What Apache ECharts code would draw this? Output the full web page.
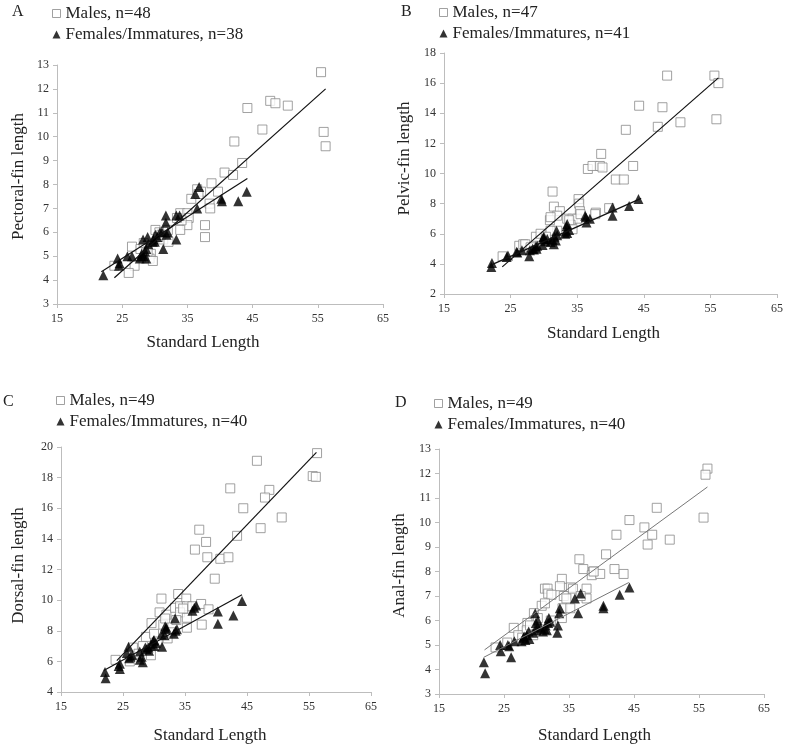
<!DOCTYPE html>
<html><head><meta charset="utf-8">
<script src="https://cdn.jsdelivr.net/npm/echarts@6/dist/echarts.min.js"></script>
<style>html,body{margin:0;padding:0;background:#fff}#c{width:788px;height:749px}</style>
</head><body><div id="c"></div>
<script>
// ---------- DATA ----------
const xTicks = [15, 25, 35, 45, 55, 65];

const malesA = [[55.5,12.7],[55.9,10.2],[56.2,9.6],[47.7,11.5],[48.5,11.4],[50.4,11.3],[44.2,11.2],[46.5,10.3],[42.2,9.8],[43.4,8.9],[40.7,8.5],[42.0,8.4],[38.7,8.05],[39.7,7.7],[36.5,7.8],[37.1,7.7],[35.6,7.4],[38.4,7.2],[38.5,7.0],[37.7,6.3],[37.7,5.8],[33.9,6.8],[35.0,6.8],[35.2,6.6],[35.0,6.3],[34.1,6.5],[33.9,6.1],[30.1,6.1],[30.7,6.0],[31.3,5.7],[32.1,5.6],[31.7,6.0],[26.5,5.4],[27.8,5.3],[29.4,5.1],[29.2,4.9],[29.7,4.8],[26.9,4.6],[26.0,4.3],[23.8,4.6],[28.7,5.3],[28.3,5.55],[32.0,6.1],[36.7,7.6],[30.5,5.8],[33.4,6.6],[28.9,5.2],[31.0,5.9]];
const femalesA = [[22.1,4.2],[24.3,4.9],[24.5,4.6],[25.8,5.0],[26.5,5.0],[27.7,4.9],[28.3,5.0],[28.7,4.9],[28.2,5.7],[28.9,5.8],[28.7,5.3],[29.8,5.7],[30.1,5.9],[31.1,6.0],[31.8,5.9],[31.3,5.3],[31.7,6.7],[31.7,6.4],[33.3,5.7],[33.3,6.7],[33.8,6.7],[36.5,7.0],[36.2,7.6],[36.8,7.9],[40.2,7.4],[40.3,7.3],[42.8,7.3],[44.1,7.7],[29.7,5.6],[30.4,5.8],[30.8,6.0],[28.0,5.1],[29.0,5.5],[27.9,5.0],[32.0,6.0],[24.6,4.7],[30.0,5.6],[28.5,5.2]];
const fitMalesA = [[23.8,4.1],[56.2,12.0]];
const fitFemalesA = [[21.8,4.35],[44.2,8.25]];

const malesB = [[55.6,16.5],[48.5,16.5],[56.2,16.0],[55.9,13.6],[44.3,14.5],[47.8,14.4],[47.1,13.1],[50.5,13.4],[42.3,12.9],[38.6,11.3],[36.6,10.3],[37.3,10.5],[38.4,10.5],[38.8,10.4],[43.4,10.5],[40.8,9.6],[42.0,9.6],[31.3,8.8],[31.5,7.8],[35.2,8.3],[35.3,8.0],[32.4,7.5],[32.0,7.2],[35.4,7.5],[37.8,7.4],[39.8,7.7],[30.9,6.9],[31.0,7.1],[33.5,7.0],[34.3,7.0],[35.0,7.0],[34.0,6.6],[34.3,6.3],[32.0,6.2],[31.0,6.2],[29.5,5.6],[28.8,5.8],[26.3,5.2],[26.9,5.3],[27.2,5.3],[23.8,4.5],[29.5,6.0],[30.3,5.8],[28.0,5.1],[35.5,7.3],[37.7,7.3],[33.8,6.9]];
const femalesB = [[22.2,4.05],[22.1,3.8],[24.6,4.55],[25.9,4.8],[26.7,4.9],[27.8,4.5],[28.3,5.0],[28.8,5.15],[28.9,5.0],[29.8,5.25],[30.0,5.8],[30.0,5.65],[30.5,5.65],[31.3,5.6],[31.5,5.3],[31.8,5.55],[31.9,6.2],[33.3,6.15],[33.4,6.5],[33.5,6.65],[33.5,6.05],[33.8,6.25],[36.2,7.2],[36.9,7.0],[36.4,6.75],[40.3,7.75],[40.3,7.2],[42.8,7.85],[44.2,8.3],[26.0,4.75],[28.5,4.95],[29.9,5.75],[31.0,5.45],[32.0,5.9],[24.4,4.45],[30.2,5.5],[29.0,5.2],[33.2,6.0],[31.6,5.8],[36.3,7.1],[27.9,4.9]];
const fitMalesB = [[23.75,3.8],[56.2,16.35]];
const fitFemalesB = [[22.2,3.95],[44.6,8.35]];

const malesC = [[56.3,19.6],[55.6,18.1],[56.1,18.05],[46.6,19.1],[42.3,17.3],[48.6,17.2],[47.9,16.7],[44.4,16.0],[50.6,15.4],[47.2,14.7],[43.4,14.2],[37.3,14.6],[38.4,13.8],[36.6,13.3],[38.6,12.8],[40.7,12.7],[42.0,12.8],[39.8,11.4],[31.2,10.1],[33.9,10.4],[35.2,10.1],[30.9,9.2],[32.0,9.05],[33.4,9.5],[34.2,9.6],[35.3,9.6],[37.6,9.75],[38.8,9.4],[34.2,9.2],[35.3,8.85],[35.3,8.2],[37.7,8.4],[29.6,8.5],[28.7,7.6],[32.2,7.5],[29.5,6.4],[26.6,6.9],[26.1,6.0],[23.8,6.1],[30.0,7.8],[31.5,8.4],[32.7,7.9],[34.7,9.45],[36.2,9.6],[33.6,8.7],[30.6,7.3],[27.5,6.5],[28.2,7.0],[31.8,8.8]];
const femalesC = [[22.1,5.3],[22.2,4.9],[24.5,5.85],[24.5,5.5],[25.9,6.95],[25.6,6.55],[26.2,6.3],[27.7,6.65],[27.7,6.1],[28.2,5.95],[28.6,6.9],[28.8,6.8],[29.2,6.7],[29.9,7.35],[30.0,7.0],[31.2,7.75],[31.3,6.95],[31.8,8.3],[31.7,7.7],[33.2,7.8],[33.4,8.8],[33.5,8.0],[36.2,9.3],[36.8,9.65],[40.3,9.25],[40.3,8.45],[42.8,9.0],[44.2,9.95],[30.3,7.2],[31.9,8.1],[29.1,6.9],[26.5,6.4],[28.0,6.3],[30.0,7.4],[33.7,8.1],[36.5,9.5],[24.3,5.7],[26.0,6.2],[29.5,7.1],[32.0,8.2]];
const fitMalesC = [[24.0,6.05],[56.2,19.65]];
const fitFemalesC = [[21.9,5.4],[44.2,10.35]];

const malesD = [[56.3,12.2],[56.0,11.95],[55.7,10.2],[48.5,10.6],[50.5,9.3],[44.3,10.1],[46.6,9.8],[47.8,9.5],[47.1,9.1],[42.3,9.5],[40.7,8.7],[36.6,8.5],[37.2,8.1],[38.7,8.0],[38.5,7.85],[39.8,7.9],[42.0,8.1],[43.4,7.9],[33.9,7.7],[33.6,7.4],[31.3,7.3],[31.7,7.3],[35.3,7.35],[35.6,7.3],[37.7,7.3],[37.7,6.9],[31.8,7.1],[32.3,7.05],[34.2,7.0],[30.8,6.6],[31.3,6.7],[29.6,6.3],[34.0,6.5],[35.2,6.5],[33.9,6.1],[28.6,5.9],[26.5,5.7],[27.2,5.4],[29.5,5.4],[23.7,4.9],[28.5,5.6],[32.2,6.0],[38.8,8.0],[30.2,6.1],[27.8,5.3],[29.0,5.8],[25.5,5.1],[34.6,6.9],[36.8,7.0]];
const femalesD = [[21.9,4.3],[22.1,3.85],[24.4,5.0],[24.5,4.75],[25.6,5.0],[26.1,4.5],[26.6,5.15],[27.7,5.15],[28.1,5.35],[28.5,5.4],[28.8,5.55],[28.9,5.25],[29.8,6.3],[29.9,5.9],[30.0,5.6],[30.2,6.0],[31.2,5.65],[31.6,5.6],[31.8,5.9],[31.9,6.1],[33.2,5.5],[33.3,5.8],[33.5,6.3],[33.6,6.5],[35.9,6.9],[36.8,7.1],[36.4,6.3],[40.3,6.6],[40.3,6.5],[42.8,7.05],[44.3,7.35],[28.3,5.2],[29.5,5.5],[30.6,5.7],[31.0,5.55],[32.1,5.95],[28.0,5.3],[25.8,4.95],[30.1,5.75],[31.4,5.8]];
const fitMalesD = [[22.0,4.8],[56.3,11.45]];
const fitFemalesD = [[21.9,4.5],[44.2,7.55]];

const panelLetters = ['A','B','C','D'];
const yTitles = ['Pectoral-fin length','Pelvic-fin length','Dorsal-fin length','Anal-fin length'];
const xTitle = 'Standard Length';
const maleNames = ['Males, n=48','Males, n=47','Males, n=49','Males, n=49'];
const femaleNames = ['Females/Immatures, n=38','Females/Immatures, n=41','Females/Immatures, n=40','Females/Immatures, n=40'];
const yRanges = [[3,13,1],[2,18,2],[4,20,2],[3,13,1]];

// ---------- LAYOUT ----------
const FONT = "'Liberation Serif','DejaVu Serif',serif";
const grids = [
  {left:57, top:65, width:326, height:239},
  {left:444, top:53, width:333, height:241},
  {left:61, top:447, width:310, height:245},
  {left:439, top:449, width:325, height:245}
];
const yNameGap = [30, 31, 34, 31];
const yNameShift = [-8, -15, -4, -6];
const xNameGap = [30, 31, 35, 33];
const xNameShift = [-17, -7, -6, -7];
const legendPos = [{left:47, top:0},{left:434, top:-1},{left:51, top:387},{left:429, top:390}];
const letterPos = [[18,13],[407,13],[9,403],[401,404]];
const lineColors = ['#111','#111','#111','#777'];
const males = [malesA, malesB, malesC, malesD];
const females = [femalesA, femalesB, femalesC, femalesD];
const fitM = [fitMalesA, fitMalesB, fitMalesC, fitMalesD];
const fitF = [fitFemalesA, fitFemalesB, fitFemalesC, fitFemalesD];

const axisGrey = '#bdbdbd';
const maleStyle = {color:'#fff', borderColor:'#8a8a8a', borderWidth:1};
const femaleStyle = {color:'#000'};

const xAxis = [], yAxis = [], series = [], legend = [], graphic = [];
for (let i = 0; i < 4; i++) {
  xAxis.push({
    gridIndex:i, type:'value', min:xTicks[0], max:xTicks[xTicks.length-1], interval:10,
    name:xTitle, nameLocation:'middle', nameGap:xNameGap[i],
    nameTextStyle:{fontFamily:FONT, fontSize:17, color:'#222',
      padding: xNameShift[i] < 0 ? [0, -2*xNameShift[i], 0, 0] : [0,0,0,2*xNameShift[i]]},
    axisLine:{show:true, lineStyle:{color:axisGrey, width:1}},
    axisTick:{show:true, length:4, lineStyle:{color:axisGrey}},
    axisLabel:{fontFamily:FONT, fontSize:12, color:'#333', margin:9},
    splitLine:{show:false}
  });
  const yr = yRanges[i];
  yAxis.push({
    gridIndex:i, type:'value', min:yr[0], max:yr[1], interval:yr[2],
    name:yTitles[i], nameLocation:'middle', nameGap:yNameGap[i],
    nameTextStyle:{fontFamily:FONT, fontSize:17, color:'#222',
      padding: yNameShift[i] < 0 ? [0, 0, 0, -2*yNameShift[i]] : [0, 2*yNameShift[i], 0, 0]},
    axisLine:{show:true, lineStyle:{color:axisGrey, width:1}},
    axisTick:{show:true, length:4, lineStyle:{color:axisGrey}},
    axisLabel:{fontFamily:FONT, fontSize:12, color:'#333', margin:8},
    splitLine:{show:false}
  });
  series.push({
    type:'scatter', name:maleNames[i], xAxisIndex:i, yAxisIndex:i, data:males[i],
    symbol:'rect', symbolSize:9, itemStyle:maleStyle, z:2
  });
  series.push({
    type:'scatter', name:femaleNames[i], xAxisIndex:i, yAxisIndex:i, data:females[i],
    symbol:'triangle', symbolSize:10, itemStyle:femaleStyle, z:3
  });
  series.push({
    type:'line', xAxisIndex:i, yAxisIndex:i, data:fitM[i], symbol:'none', silent:true,
    lineStyle:{color:lineColors[i], width:i===3?1:1.2}, z:4
  });
  series.push({
    type:'line', xAxisIndex:i, yAxisIndex:i, data:fitF[i], symbol:'none', silent:true,
    lineStyle:{color:lineColors[i], width:i===3?1:1.2}, z:4
  });
  legend.push({
    left:legendPos[i].left, top:legendPos[i].top, orient:'vertical', itemGap:4,
    itemWidth:8, itemHeight:8, selectedMode:false,
    textStyle:{fontFamily:FONT, fontSize:17, color:'#222', lineHeight:17},
    data:[
      {name:maleNames[i], icon:'rect', itemStyle:maleStyle},
      {name:femaleNames[i], icon:'triangle', itemStyle:femaleStyle}
    ]
  });
  graphic.push({
    type:'text', left:letterPos[i][0]-6, top:letterPos[i][1]-9,
    style:{text:panelLetters[i], font:'16px ' + FONT, fill:'#222'}
  });
}

const chart = echarts.init(document.getElementById('c'), null, {renderer:'canvas'});
chart.setOption({
  animation:false,
  backgroundColor:'#fff',
  grid:grids, xAxis:xAxis, yAxis:yAxis, series:series, legend:legend, graphic:graphic
});
</script></body></html>
